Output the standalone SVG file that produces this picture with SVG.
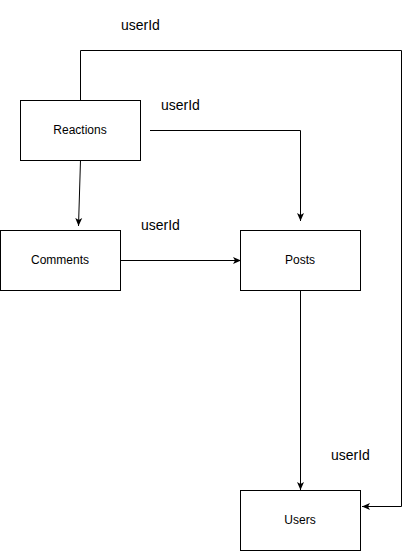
<svg xmlns="http://www.w3.org/2000/svg" width="410" height="551" viewBox="0 0 410 551">
<style>
.box{fill:#fff;stroke:#000;stroke-width:1}
.lbl{font-family:"Liberation Sans",Arial,sans-serif;font-size:12px;fill:#000;text-anchor:middle}
.el{font-family:"Liberation Sans",Arial,sans-serif;font-size:14px;fill:#000}
.c{fill:none;stroke:#000;stroke-width:1}
</style>
<defs>
<marker id="ah" markerWidth="8" markerHeight="8" refX="8" refY="4" orient="auto" markerUnits="userSpaceOnUse">
<path d="M0,0.5 L8,4 L0,7.5 L2,4 Z" fill="#000"/>
</marker>
</defs>
<rect width="410" height="551" fill="#fff"/>
<g id="connectors">
<path class="c" d="M80.5,100 V50.5 H401.5 V506.5 H362" marker-end="url(#ah)"/>
<path class="c" d="M150,130.5 H300.5 V221" marker-end="url(#ah)"/>
<path class="c" d="M80.5,160 L78.5,226" marker-end="url(#ah)"/>
<path class="c" d="M120,260.5 H241" marker-end="url(#ah)"/>
<path class="c" d="M300.5,290 V490" marker-end="url(#ah)"/>
<text class="el" x="121" y="30">userId</text>
<text class="el" x="161" y="110">userId</text>
<text class="el" x="141" y="230">userId</text>
<text class="el" x="331" y="460">userId</text>
</g>
<g id="reactions">
<rect class="box" x="20.5" y="100.5" width="120" height="60"/>
<text class="lbl" x="80" y="134">Reactions</text>
</g>
<g id="comments">
<rect class="box" x="0.5" y="230.5" width="120" height="60"/>
<text class="lbl" x="60" y="264">Comments</text>
</g>
<g id="posts">
<rect class="box" x="240.5" y="230.5" width="120" height="60"/>
<text class="lbl" x="300" y="264">Posts</text>
</g>
<g id="users">
<rect class="box" x="240.5" y="490.5" width="120" height="60"/>
<text class="lbl" x="300" y="524">Users</text>
</g>
</svg>
